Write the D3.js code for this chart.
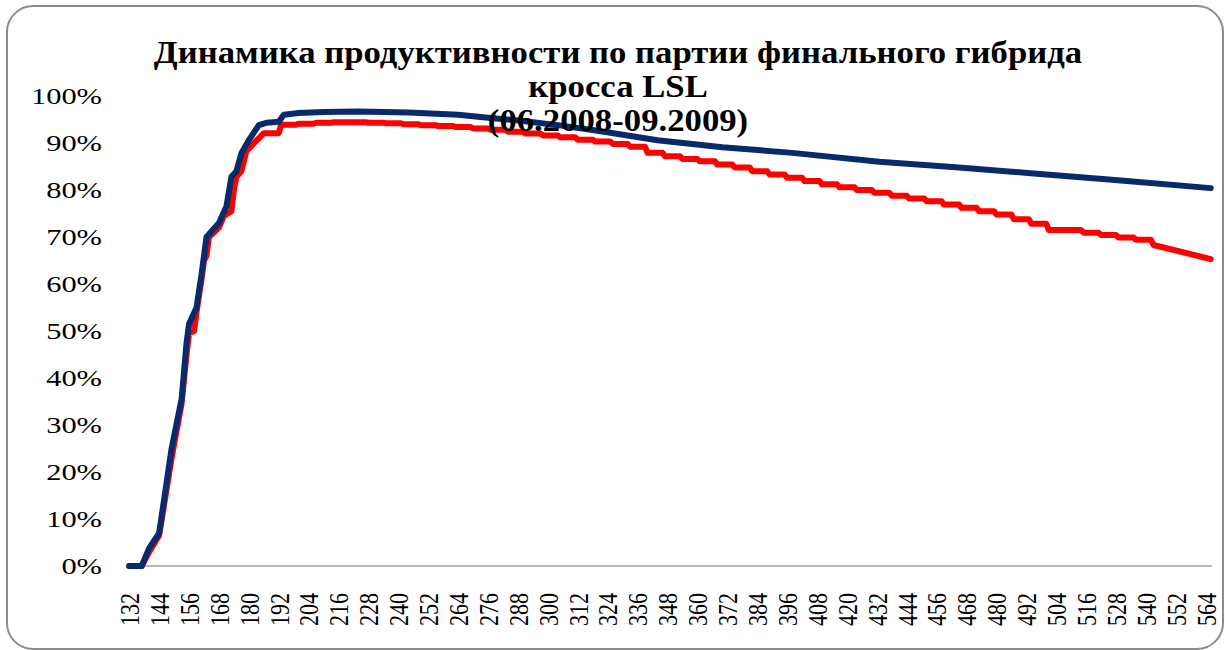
<!DOCTYPE html>
<html>
<head>
<meta charset="utf-8">
<script src="https://cdn.jsdelivr.net/npm/d3@7"></script>
<style>
  body { margin: 0; background: #fff; }
  text { font-family: "Liberation Serif", "Times New Roman", serif; }
</style>
</head>
<body>
<div id="chart"></div>
<script>
const width = 1225;
const height = 650;
const plotLeft = 128;
const plotRight = 1212;
const plotTop = 96;
const plotBottom = 566;
const stretch = 1.27; // the source picture is stretched horizontally
const titleStretch = 1.12;

const titleLines = ["Динамика продуктивности по партии финального гибрида", "кросса LSL", "(06.2008-09.2009)"];

// age in days
const xTicks = d3.range(132, 565, 12);
const yTicks = [0, 10, 20, 30, 40, 50, 60, 70, 80, 90, 100];

// blue series
const blueDays = [132, 137, 140, 144, 149, 153, 155, 156, 159, 161, 162, 163, 168, 171, 173, 175, 177, 180, 184, 187, 192, 194, 200, 210, 224, 244, 264, 277, 290, 304, 320, 344, 370, 398, 433, 465, 495, 530, 566];
const blueValues = [0, 0, 3.8, 7, 25, 35.5, 47.5, 51.5, 55, 62, 66, 70, 73, 76.5, 82.8, 84, 87.8, 90.6, 93.8, 94.3, 94.5, 96, 96.4, 96.6, 96.7, 96.5, 96.0, 95.3, 94.7, 93.8, 92.6, 90.6, 89.1, 87.9, 86.0, 84.8, 83.5, 82.0, 80.4];

// red series: rise, then weekly values, then last segment
const redRiseDays = [132, 137, 140, 144, 149, 153, 155, 156, 158, 159, 161, 162, 163, 164, 168, 170, 173, 174, 175, 177, 179];
const redRiseValues = [0, 0, 3, 6.5, 23, 34.5, 45, 49.5, 50, 54, 61, 65, 66, 70, 72, 74.5, 75.5, 80, 82.8, 84, 88.3];
const redWeekDays = d3.range(186, 544, 7);
const redWeekValues = [92.1, 93.9, 94.1, 94.3, 94.4, 94.4, 94.3, 94.2, 94.0, 93.8, 93.6, 93.4, 93.1, 92.8, 92.4, 92.0, 91.6,
  91.2, 90.7, 90.3, 89.8, 89.2, 87.9, 87.2, 86.6, 86.1, 85.4, 84.8, 84.0, 83.3, 82.6, 81.9,
  81.2, 80.6, 80.0, 79.4, 78.8, 78.2, 77.6, 76.9, 76.2, 75.5, 74.8, 73.8, 72.8, 71.5,
  71.5, 70.9, 70.4, 69.9, 69.4, 68.3];
const redTailDays = [566];
const redTailValues = [65.3];

const x = d3.scaleLinear()
    .domain([131.5, 566.5])
    .range([plotLeft, plotRight]);
const y = d3.scaleLinear()
    .domain([0, 100])
    .range([plotBottom, plotTop]);

const svg = d3.select("#chart")
  .append("svg")
    .attr("width", width)
    .attr("height", height);

// frame
svg.append("rect")
    .attr("x", 7)
    .attr("y", 6)
    .attr("width", 1216)
    .attr("height", 643)
    .attr("rx", 26)
    .attr("fill", "#fff")
    .attr("stroke", "#8c8c8c")
    .attr("stroke-width", 2);

// title
const title = svg.append("g");
title.selectAll("text")
  .data(titleLines)
  .join("text")
    .attr("text-anchor", "middle")
    .attr("font-size", 31)
    .attr("font-weight", "bold")
    .attr("fill", "#000")
    .attr("transform", (d, i) => `translate(618,${63 + i * 34}) scale(${titleStretch},1)`)
    .text(d => d);

// x axis
svg.append("line")
    .attr("x1", plotLeft)
    .attr("x2", plotRight)
    .attr("y1", plotBottom)
    .attr("y2", plotBottom)
    .attr("stroke", "#a0a0a0")
    .attr("stroke-width", 1.5);

svg.append("g")
  .selectAll("text")
  .data(xTicks)
  .join("text")
    .attr("transform", d => `translate(${x(d)},593) scale(${stretch},1) rotate(-90)`)
    .attr("text-anchor", "end")
    .attr("dy", "0.35em")
    .attr("font-size", 22)
    .text(d => d);

// y axis labels
svg.append("g")
  .selectAll("text")
  .data(yTicks)
  .join("text")
    .attr("transform", d => `translate(102,${y(d)}) scale(${stretch},1)`)
    .attr("text-anchor", "end")
    .attr("dy", "0.35em")
    .attr("font-size", 24)
    .text(d => d + "%");

// red line: weekly values held until the day before the next week
const redPoints = redRiseDays.map((d, i) => [d, redRiseValues[i]]);
redWeekDays.forEach((d, i) => {
  redPoints.push([d, redWeekValues[i]]);
  const next = i < redWeekDays.length - 1 ? redWeekDays[i + 1] : null;
  if (next) redPoints.push([next - 1, redWeekValues[i]]);
});
redTailDays.forEach((d, i) => redPoints.push([d, redTailValues[i]]));

const line = d3.line()
    .x(d => x(d[0]))
    .y(d => y(d[1]));

svg.append("path")
    .datum(redPoints)
    .attr("fill", "none")
    .attr("stroke", "#ff0000")
    .attr("stroke-width", 6)
    .attr("stroke-linejoin", "round")
    .attr("stroke-linecap", "round")
    .attr("d", line);

svg.append("path")
    .datum(blueDays.map((d, i) => [d, blueValues[i]]))
    .attr("fill", "none")
    .attr("stroke", "#062a6c")
    .attr("stroke-width", 6)
    .attr("stroke-linejoin", "round")
    .attr("stroke-linecap", "round")
    .attr("d", line);

// title above the lines, as in the source
title.raise();
</script>
</body>
</html>
